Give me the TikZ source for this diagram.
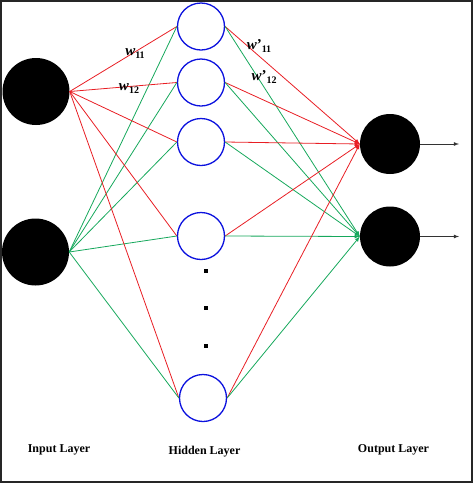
\documentclass[tikz,border=0pt]{standalone}
\usepackage{fontspec}
\setmainfont{Liberation Serif}
\tikzset{>=latex}
\definecolor{redw}{RGB}{232,30,36}
\definecolor{greenw}{RGB}{22,168,92}
\definecolor{blueh}{RGB}{12,18,222}

\begin{document}
\begin{tikzpicture}[x=1pt, y=-1pt,
    unit/.style={circle, inner sep=0pt},
    inunit/.style={unit, fill=black, minimum size=67pt},
    hidunit/.style={unit, draw=blueh, line width=1.3pt, minimum size=47pt},
    outunit/.style={unit, fill=black, minimum size=60pt},
    redlink/.style={draw=redw, line width=0.8pt},
    greenlink/.style={draw=greenw, line width=0.8pt},
    lab/.style={font=\fontsize{12}{14}\selectfont\bfseries},
    wlab/.style={font=\fontsize{15}{17}\selectfont\bfseries\itshape, inner sep=0pt}]
    \useasboundingbox (0,0) rectangle (473,483);
    \draw[line width=1.5pt, black!85] (1,1) rectangle (472,482);
    % layers
    \node[inunit] (in1) at (36,91.5) {};
    \node[inunit] (in2) at (35.5,252) {};
    \foreach \i/\y in {1/26.5, 2/82.5, 3/142, 4/236}
        \node[hidunit] (h\i) at (201,\y) {};
    \node[hidunit] (h5) at (203,398) {};
    \node[outunit] (out1) at (390,144) {};
    \node[outunit] (out2) at (390,236.5) {};
    \foreach \i/\y in {1/271, 2/308, 3/346}
        \node[fill=black, inner sep=0pt, minimum size=4pt] (dot\i) at (206,\y) {};
    % weights
    \foreach \i in {1,...,5} {
        \draw[redlink] (in1.east) -- (h\i.west);
        \draw[greenlink] (in2.east) -- (h\i.west);
        \draw[redlink, ->] (h\i.east) -- (out1.west);
        \draw[greenlink, ->] (h\i.east) -- (out2.west);
    }
    \coordinate (y1) at (459,144);
    \coordinate (y2) at (459,236.5);
    \draw[->, line width=0.8pt, black!80] (out1.east) -- (y1);
    \draw[->, line width=0.8pt, black!80] (out2.east) -- (y2);
    % labels
    \node[wlab] (w11) at (135,54) {w\raisebox{-3pt}{\fontsize{10}{12}\selectfont\upshape 11}};
    \node[wlab] (w12) at (129,89) {w\raisebox{-3pt}{\fontsize{10}{12}\selectfont\upshape 12}};
    \node[wlab] (v11) at (259,46) {w\upshape’\raisebox{-3pt}{\fontsize{10}{12}\selectfont 11}};
    \node[wlab] (v12) at (264,77) {w\upshape’\raisebox{-3pt}{\fontsize{10}{12}\selectfont 12}};
    \node[lab] (lin) at (59,450) {Input Layer};
    \node[lab] (lhid) at (204.5,452) {Hidden Layer};
    \node[lab] (lout) at (393.5,450) {Output Layer};
\end{tikzpicture}
\end{document}
